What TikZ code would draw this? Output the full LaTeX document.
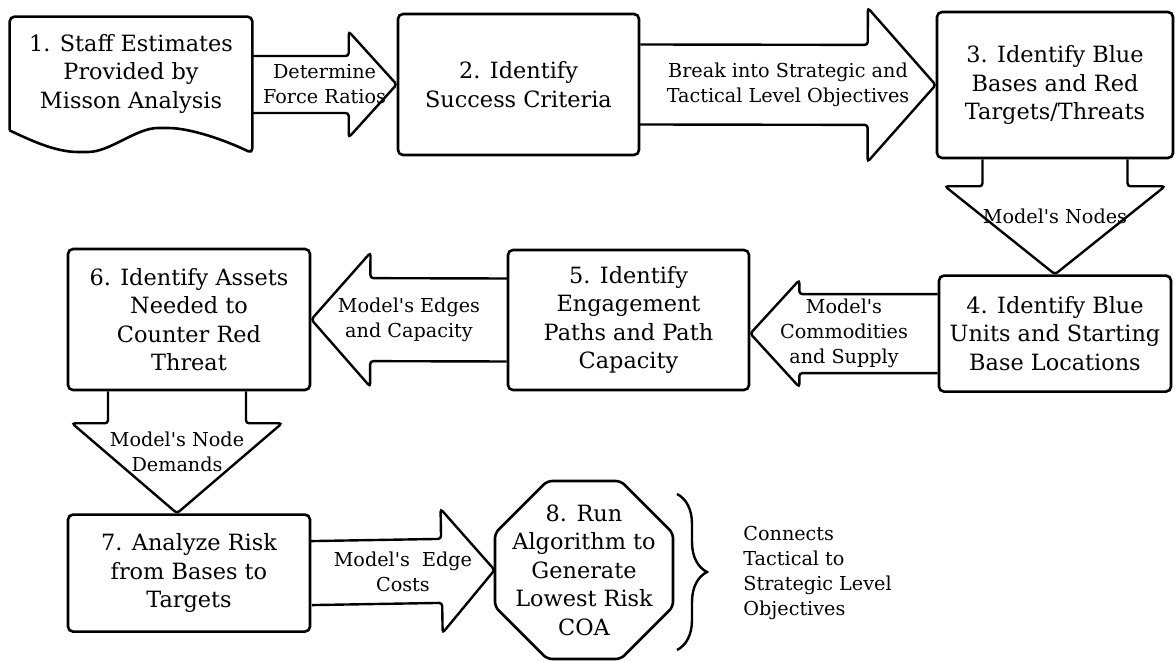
\documentclass[tikz,border=0pt]{standalone}
\usepackage{fontspec}
\setmainfont{DejaVu Serif}
\usetikzlibrary{positioning,calc,decorations.pathreplacing}

\newcommand{\boxfont}{\fontsize{11.2}{14.25}\selectfont}
\newcommand{\labelfont}{\fontsize{9.6}{12.5}\selectfont}
\newcommand{\notefont}{\fontsize{9.6}{12.5}\selectfont}
\newcommand{\mq}{\textquotesingle}

\tikzset{
  stepbox/.style={draw, line width=1.3pt, rounded corners=2.5pt, align=center, inner sep=2pt, font=\boxfont},
  boxline/.style={draw, line width=1.3pt, rounded corners=2.5pt},
  arrowline/.style={draw, line width=1.2pt, rounded corners=1.5pt},
  arrowlabel/.style={align=center, inner sep=0pt, font=\labelfont},
  note/.style={align=left, inner sep=0pt, font=\notefont},
}

% block arrow: label name, start, tip, half body, half head, head length, text
\newcommand{\flowarrow}[7]{%
  \coordinate (hb) at ($(#3)!#6!(#2)$);
  \draw[arrowline] ($(#2)!#4!90:(#3)$) -- ($(hb)!#4!90:(#3)$) -- ($(hb)!#5!90:(#3)$)
    -- (#3) -- ($(hb)!#5!-90:(#3)$) -- ($(hb)!#4!-90:(#3)$) -- ($(#2)!#4!-90:(#3)$);
  \node[arrowlabel] (#1) at ($(#2)!0.5!(#3)$) {#7};
}

\begin{document}
\begin{tikzpicture}[x=0.5pt, y=-0.5pt]
  \useasboundingbox (0,0) rectangle (1175,662);
  % Document shape for the first step
  \node (box1) [minimum width=121pt, minimum height=56.5pt, align=center, inner sep=2pt, font=\boxfont] at (131,73.5) {1. Staff Estimates\\Provided by\\Misson Analysis};
  \draw[boxline] (box1.south west) -- (box1.north west) -- (box1.north east) -- ($(box1.south east)+(0,23)$)
    .. controls (225,140) and (190,128) .. (163,128)
    .. controls (136,128) and (110,152) .. (83,152)
    .. controls (55,152) and (30,140) .. (box1.south west);
  % Step boxes
  \node (box2) [stepbox, minimum width=120.5pt, minimum height=70.5pt] at (518.5,84.5) {2. Identify\\Success Criteria};
  \node (box3) [stepbox, minimum width=118pt, minimum height=73pt] at (1055,85) {3. Identify Blue\\Bases and Red\\Targets/Threats};
  \node (box4) [stepbox, minimum width=116pt, minimum height=58pt, below=57.5pt of box3] {4. Identify Blue\\Units and Starting\\Base Locations};
  \node (box5) [stepbox, minimum width=120.5pt, minimum height=70pt] at (628.5,320) {5. Identify\\Engagement\\Paths and Path\\Capacity};
  \node (box6) [stepbox, minimum width=121pt, minimum height=70.5pt] at (189,319.5) {6. Identify Assets\\Needed to\\Counter Red\\Threat};
  \node (box7) [stepbox, minimum width=121pt, minimum height=58.5pt, below=61pt of box6] {7. Analyze Risk\\from Bases to\\Targets};
  % Octagon for the last step
  \node (coa) [minimum width=89pt, minimum height=90pt, align=center, inner sep=0pt, font=\boxfont] at (584,570) {8. Run\\Algorithm to\\Generate\\Lowest Risk\\COA};
  \draw[boxline] ($(coa.center)+(22.5:96.3)$) \foreach \a in {67.5,112.5,...,337.5} {-- ($(coa.center)+(\a:96.3)$)} -- cycle;
  % Block arrows
  \coordinate (s1) at (box1.east |- box2.west);
  \flowarrow{fr}{s1}{box2.west}{14.25pt}{26.5pt}{24pt}{Determine\\Force Ratios}
  \flowarrow{ob}{box2.east}{box3.west}{20pt}{38.5pt}{34pt}{Break into Strategic and\\Tactical Level Objectives}
  \flowarrow{nd}{box3.south}{box4.north}{36.25pt}{55pt}{44pt}{Model\mq s Nodes}
  \coordinate (t4) at (box5.east |- box4.west);
  \flowarrow{cs}{box4.west}{t4}{19.75pt}{26.75pt}{24.5pt}{Model\mq s\\Commodities\\and Supply}
  \flowarrow{ec}{box5.west}{box6.east}{20.75pt}{33.5pt}{29.5pt}{Model\mq s Edges\\and Capacity}
  \coordinate (s6) at ($(box6.south)+(-12,0)$);
  \coordinate (t6) at (s6 |- box7.north);
  \flowarrow{dm}{s6}{t6}{34.5pt}{52.5pt}{45pt}{Model\mq s Node\\Demands}
  \flowarrow{co}{box7.east}{coa.west}{16pt}{31pt}{26.5pt}{Model\mq s\ \ Edge\\Costs}
  % Brace and note
  \coordinate (bt) at (677,494);
  \coordinate (bb) at (677,650);
  \draw[line width=1.2pt, decorate, decoration={brace, amplitude=15pt}] (bt) -- (bb);
  \node[note, anchor=west] (note) at (743,573) {Connects\\Tactical to\\Strategic Level\\Objectives};
\end{tikzpicture}
\end{document}
